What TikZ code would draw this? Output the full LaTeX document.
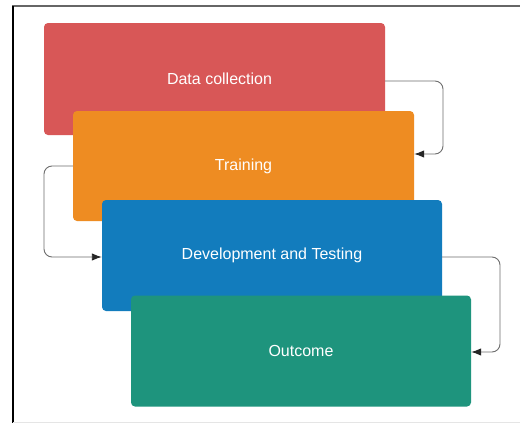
\documentclass[tikz,border=0pt]{standalone}
\usepackage{fontspec}
\setmainfont{Liberation Sans}
\usetikzlibrary{arrows.meta}
\definecolor{cred}{RGB}{216,87,87}
\definecolor{corange}{RGB}{238,140,34}
\definecolor{cblue}{RGB}{18,124,189}
\definecolor{cgreen}{RGB}{30,148,125}
\definecolor{cline}{RGB}{110,110,110}
\begin{document}
\begin{tikzpicture}[x=1pt,y=-1pt,
  stage/.style={rounded corners=4pt, inner sep=0pt, text=white,
    font=\fontsize{16}{19}\selectfont, minimum width=341pt, minimum height=111pt},
  flow/.style={draw=cline, line width=0.9pt, rounded corners=8pt, -{Latex[length=10pt,width=7.5pt,color=black!85]}}]
\useasboundingbox (0,0) rectangle (520,423);
\fill[white] (0,0) rectangle (520,423);
% frame
\draw[gray!80!black, line width=1.2pt] (12,6) -- (520,6);
\draw[black, line width=2pt] (13,6) -- (13,423);
\draw[gray!20, line width=1pt] (13,422.5) -- (520,422.5);
% boxes
\node[stage, fill=cred, minimum height=112pt] (b1) at (214.5,79) {\hspace*{10pt}Data collection};
\node[stage, fill=corange, minimum height=110pt] (b2) at (243.5,166) {Training};
\node[stage, fill=cblue, minimum width=340pt] (b3) at (272,255.5) {Development and Testing};
\node[stage, fill=cgreen, minimum width=340pt] (b4) at (301,351) {Outcome};
% connectors
\draw[flow] ([yshift=-2pt]b1.east) -| (443,118) |- ([yshift=12pt]b2.east);
\draw[flow] (b2.west) -| (44,212) |- ([yshift=-1.5pt]b3.west);
\draw[flow] ([yshift=-1.5pt]b3.east) -| (500,305) |- ([yshift=-1pt]b4.east);
\end{tikzpicture}
\end{document}
